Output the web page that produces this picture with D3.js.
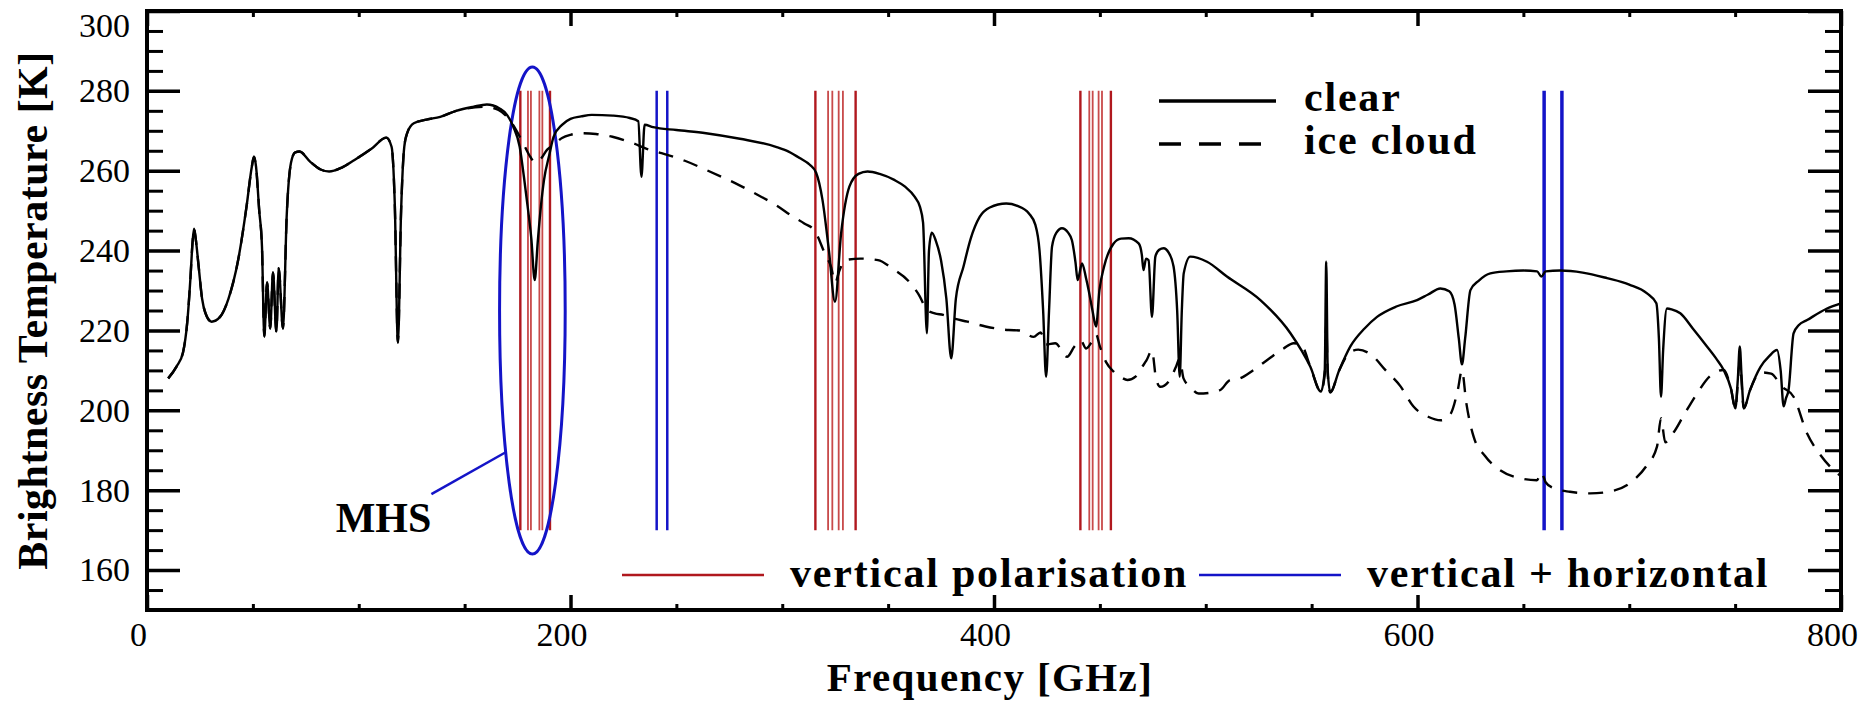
<!DOCTYPE html>
<html lang="en">
<head>
    <meta charset="UTF-8">
    <title>Brightness Temperature spectrum</title>
    <script src="https://d3js.org/d3.v7.min.js"></script>
    <style>
        body { margin: 0; background: #fff; }
        svg text { font-family: "Liberation Serif", "DejaVu Serif", serif; fill: #000; }
        .tick text { font-size: 34px; }
        .axis path { display: none; }
        .axis line { stroke: #000; stroke-width: 3.5px; }
        .axis-minor line { stroke-width: 3px; }
        .title { font-size: 42px; font-weight: bold; }
        .legend { font-size: 42px; font-weight: bold; letter-spacing: 1.8px; }
    </style>
</head>
<body>
    <div id="chart"></div>
    <script>
        // clear-sky spectrum (GHz, K)
        const clearFreq = [10, 14, 17, 19, 20.5, 21.5, 22.2, 23, 24.4, 26, 27.5, 30.5, 34.5, 38.5, 43, 47, 49.5, 50.5, 51.5, 53,
            54.3, 55.4, 56.7, 58.2, 59.5, 61.1, 62.2, 64.2, 66, 68, 70, 72, 77, 82, 86, 92, 98, 106, 113, 115.5,
            117, 118.5, 120, 121.5, 123, 126, 132, 138.5, 146, 154, 160.5, 166.5, 170, 173, 176, 178, 180, 181.5, 183.1, 184.5,
            186, 187.5, 190, 192, 196, 200, 205, 210, 220, 228, 232, 233.5, 235, 239, 250, 264, 280, 297, 303, 308.5,
            313, 316, 319, 322, 324.9, 327.8, 331.7, 336, 340.3, 346, 352.9, 358, 362.5, 365, 366.5, 368.3, 369.3, 370.6, 372.5, 375,
            377.5, 379.8, 382, 385.6, 389, 393.3, 398, 405.8, 411, 416.5, 419.5, 421.5, 423.2, 424.6, 426, 427.4, 429.5, 432.1, 435, 436.8,
            438.5, 439.5, 441.6, 443.5, 444.7, 446.5, 448.2, 449.8, 452, 456.5, 460, 463.6, 468.3, 469.8, 470.6, 471.8, 473, 474.6, 476.2, 478,
            480.1, 482.5, 484.8, 486.5, 487.7, 488.7, 489.6, 492.7, 500.6, 510, 525.8, 540, 549.4, 554.4, 556.2, 556.9, 557.6, 558.8, 563, 568.3,
            575, 580.9, 590, 599.8, 605, 610.8, 615, 617.5, 619.5, 621, 622.5, 625, 629, 634.4, 642, 650.1, 656.5, 658.5, 660.5, 667.4,
            678, 689.5, 700, 708.4, 712.8, 714, 715, 716, 717.8, 720, 724.1, 730, 736.7, 741, 744.6, 748, 750.1, 751.3, 752.2, 753.1,
            754.1, 757, 762, 766, 769.8, 771.5, 772.9, 774, 775.2, 777.6, 780, 784, 793.4, 800];
        const clearTb = [208, 211, 214.5, 222, 233, 242, 245.5, 243, 236, 228, 224.5, 222.2, 223.4, 228, 237.5, 251, 261, 263.5, 261, 250,
            241, 218.5, 232, 220.5, 234.5, 219.7, 235.6, 220.5, 249, 262, 264.6, 264.8, 262.3, 260.3, 259.8, 260.8, 262.7, 265.5, 268.3, 266,
            252, 217, 250, 266, 269.6, 271.9, 272.8, 273.5, 275, 276, 276.6, 275.6, 274, 271, 266, 258.5, 250, 243, 232.6, 242,
            251, 257.7, 264, 268.5, 271.5, 273, 273.6, 274, 273.8, 273.2, 272.4, 258.5, 271.5, 270.9, 270.2, 269.4, 268, 266, 264.8, 263.1,
            261.5, 259.5, 252.7, 240.2, 227.2, 244.3, 256, 259.2, 259.8, 259.2, 257.7, 256, 253.5, 251, 247, 219.3, 240, 244.5, 242.5, 237.5,
            228, 213, 228, 236, 243, 248.5, 250.8, 251.8, 251.2, 249.3, 246.5, 240, 225, 208.4, 225, 241, 244.5, 245.6, 244.5, 242.6,
            237, 232.6, 236.8, 233, 230.1, 225, 221, 230.1, 236, 241.8, 243, 243.1, 241.8, 239, 235.1, 238, 237.6, 223.4, 238.5, 240.2,
            240.6, 239.5, 236, 225, 208.4, 225, 234.3, 238.5, 237.2, 233.5, 227.6, 219.3, 210.9, 204.7, 210, 237.2, 210, 204.5, 210, 216,
            220.5, 223.4, 226, 227.6, 229, 230.5, 229.8, 226.5, 218, 211.5, 218, 230.1, 232.5, 234.3, 234.8, 235, 234.8, 233.5, 234.8, 235,
            234.5, 233.1, 231.5, 229.3, 226.8, 218, 203.4, 215, 225.5, 225.3, 224.3, 220.5, 216, 213, 210.1, 205.5, 200.5, 208, 216, 208,
            200.5, 205, 210.9, 213.5, 215.1, 210, 201, 203, 205, 219.3, 221.3, 222.6, 225.5, 226.8];

        // ice-cloud spectrum above 150 GHz (below that it lies on the clear curve)
        const iceFreq = [150, 160, 166, 170, 174, 178, 181, 183.3, 186, 189, 192, 196, 200, 205, 212, 219.8, 229.5, 236, 243, 254,
            264.1, 279.6, 290, 297, 305, 310.4, 315.3, 320.1, 323, 325, 327, 329.7, 337, 345.2, 352, 360.6, 365, 368.3, 372, 376,
            381, 387.5, 396, 406.9, 412, 418.7, 422, 424.6, 428.9, 434.5, 438, 441, 443.5, 446, 448.2, 450, 453, 456.5, 460, 463,
            467, 470, 472, 474.6, 476.5, 478.5, 483, 486, 487.7, 489.5, 492.7, 496.6, 502, 506.9, 511.6, 515, 522.6, 530, 536.8, 541.5,
            545, 549.4, 554.4, 556.2, 556.9, 557.6, 558.8, 563, 568, 572, 578, 585, 592, 598, 605, 611, 615.5, 619, 621, 623,
            626.5, 632, 639, 646, 656.4, 658.5, 660.5, 664.3, 672, 681.6, 692, 702, 708, 713.1, 715, 717, 721, 726, 732, 738,
            744.6, 748, 750.1, 752.2, 754.1, 757, 762, 767, 772, 777.6, 784, 790, 796.6, 800];
        const iceTb = [275.5, 276, 275.2, 273.5, 270.5, 266.5, 263.5, 262, 263, 265.3, 266.5, 268.2, 269, 269.4, 269.2, 268.5, 266.9, 265.5, 264.4, 262.5,
            260.2, 256.4, 253.5, 251.4, 248.5, 246.8, 245, 239.3, 236, 232, 235, 237.6, 238, 237.6, 235.5, 231.8, 228.5, 225.1, 224.3, 223.9,
            223, 222.2, 221, 220.1, 220, 218.4, 219.5, 216.5, 216.8, 213.4, 216, 217.5, 215.5, 217, 219, 216, 212, 209.7, 208.3, 207.6,
            208.5, 210.9, 212.5, 215, 208, 205.9, 207.6, 211, 213, 208, 205.9, 204.2, 204.4, 205.1, 207.6, 207.8, 210.1, 213, 215.5, 216.8,
            216.5, 210.9, 204.7, 209, 222, 209, 204.5, 210, 214.5, 215.2, 214, 210, 206, 201, 198.4, 197.5, 199, 205, 210, 202,
            193.4, 188.5, 185, 183.3, 182.5, 184.5, 182, 180.5, 179.6, 179.2, 179.8, 182.5, 186, 190.9, 198, 192, 194.5, 199, 204.2, 208.5,
            210.1, 205.5, 200.5, 212, 200.5, 205, 209.5, 209.2, 206, 203.4, 194.2, 189, 185, 183.5];

        // channel positions (GHz)
        const vPolFreq = [176.31, 179.91, 181.31, 185.31, 186.71, 190.31,
            315.65, 321.65, 323.65, 326.65, 328.65, 334.65,
            440.8, 445.0, 446.6, 449.4, 451.0, 455.2];
        const vhPolFreq = [240.7, 245.7, 659.8, 668.2];
        const channelTb = [170, 280];

        // MHS ellipse: centre GHz, centre K, half width GHz, half height K
        const mhsEllipse = [182, 225, 15.5, 61];
        const mhsPointer = [134.3, 179];

        const xTicks = [0, 200, 400, 600, 800];
        const yTicks = [160, 180, 200, 220, 240, 260, 280, 300];

        const margin = { top: 11, right: 21, bottom: 93, left: 147 };
        const W = 1862, H = 703;
        const width = W - margin.left - margin.right;
        const height = H - margin.top - margin.bottom;

        const svg = d3.select("#chart").append("svg")
            .attr("width", W).attr("height", H);
        const g = svg.append("g")
            .attr("transform", "translate(" + margin.left + "," + margin.top + ")");

        const x = d3.scaleLinear().domain([0, 800]).range([0, width]);
        const y = d3.scaleLinear().domain([150, 300]).range([height, 0]);

        // channel lines
        g.selectAll(".vpol").data(vPolFreq).enter().append("line")
            .attr("class", "vpol")
            .attr("x1", d => x(d)).attr("x2", d => x(d))
            .attr("y1", y(channelTb[0])).attr("y2", y(channelTb[1]))
            .attr("stroke", (d, i) => (i % 6 === 0 || i % 6 === 5) ? "#b0181e" : "#c84a4a")
            .attr("stroke-width", (d, i) => (i % 6 === 0 || i % 6 === 5) ? 2.4 : 1.8);

        g.selectAll(".vhpol").data(vhPolFreq).enter().append("line")
            .attr("class", "vhpol")
            .attr("x1", d => x(d)).attr("x2", d => x(d))
            .attr("y1", y(channelTb[0])).attr("y2", y(channelTb[1]))
            .attr("stroke", "#1414c8")
            .attr("stroke-width", d => d > 600 ? 3.5 : 2.5);

        // MHS ellipse + pointer
        const [ef, et, edf, edt] = mhsEllipse;
        g.append("ellipse")
            .attr("cx", x(ef)).attr("cy", y(et))
            .attr("rx", x(ef + edf) - x(ef)).attr("ry", y(et - edt) - y(et))
            .attr("fill", "none").attr("stroke", "#1414c8").attr("stroke-width", 3);

        const tStart = 189.5;
        const fStart = ef - edf * Math.sqrt(1 - Math.pow((tStart - et) / edt, 2));
        g.append("line")
            .attr("x1", x(fStart)).attr("y1", y(tStart))
            .attr("x2", x(mhsPointer[0])).attr("y2", y(mhsPointer[1]))
            .attr("stroke", "#1414c8").attr("stroke-width", 2.5);
        g.append("text").attr("class", "title")
            .attr("x", x(mhsPointer[0])).attr("y", y(mhsPointer[1]) + 38)
            .attr("text-anchor", "end")
            .text("MHS");

        // spectra
        const clearPts = clearFreq.map((f, i) => ({ f, t: clearTb[i] }));
        const icePts = clearPts.filter(p => p.f < iceFreq[0])
            .concat(iceFreq.map((f, i) => ({ f, t: iceTb[i] })));

        const line = d3.line().x(d => x(d.f)).y(d => y(d.t)).curve(d3.curveMonotoneX);

        g.append("path").datum(icePts)
            .attr("d", line).attr("fill", "none")
            .attr("stroke", "#000").attr("stroke-width", 2.4)
            .attr("stroke-dasharray", "15,11");
        g.append("path").datum(clearPts)
            .attr("d", line).attr("fill", "none")
            .attr("stroke", "#000").attr("stroke-width", 2.4);

        // axes: long y ticks, short x ticks, all pointing inwards
        const yMinor = d3.range(150, 301, 5).filter(v => v % 20 !== 0);
        const xMinor = d3.range(0, 801, 50).filter(v => v % 200 !== 0);

        const yl = g.append("g").attr("class", "axis")
            .call(d3.axisLeft(y).tickValues(yTicks).tickSize(-33).tickPadding(17));
        yl.selectAll("text").filter(d => d === 300).attr("y", 15);
        g.append("g").attr("class", "axis axis-minor")
            .call(d3.axisLeft(y).tickValues(yMinor).tickSize(-16).tickFormat(""));
        g.append("g").attr("class", "axis").attr("transform", "translate(" + width + ",0)")
            .call(d3.axisRight(y).tickValues(yTicks).tickSize(-33).tickFormat(""));
        g.append("g").attr("class", "axis axis-minor").attr("transform", "translate(" + width + ",0)")
            .call(d3.axisRight(y).tickValues(yMinor).tickSize(-16).tickFormat(""));

        const xb = g.append("g").attr("class", "axis").attr("transform", "translate(0," + height + ")")
            .call(d3.axisBottom(x).tickValues(xTicks).tickSize(-15).tickPadding(12));
        xb.selectAll("text").attr("dx", -9);
        g.append("g").attr("class", "axis axis-minor").attr("transform", "translate(0," + height + ")")
            .call(d3.axisBottom(x).tickValues(xMinor).tickSize(-6).tickFormat(""));
        g.append("g").attr("class", "axis")
            .call(d3.axisTop(x).tickValues(xTicks).tickSize(-15).tickFormat(""));
        g.append("g").attr("class", "axis axis-minor")
            .call(d3.axisTop(x).tickValues(xMinor).tickSize(-6).tickFormat(""));

        g.append("rect")
            .attr("width", width).attr("height", height)
            .attr("fill", "none").attr("stroke", "#000").attr("stroke-width", 4);

        // axis titles
        svg.append("text").attr("class", "title")
            .attr("x", 990).attr("y", 691)
            .attr("text-anchor", "middle")
            .style("font-size", "41px")
            .style("letter-spacing", "1.4px")
            .text("Frequency [GHz]");
        svg.append("text").attr("class", "title")
            .attr("transform", "translate(47," + (margin.top + height / 2) + ") rotate(-90)")
            .attr("text-anchor", "middle")
            .style("letter-spacing", "0.5px")
            .text("Brightness Temperature [K]");

        // legends
        const topLegend = [
            { label: "clear", dash: null, y: 101 },
            { label: "ice cloud", dash: "22,18", y: 144 }
        ];
        topLegend.forEach(d => {
            svg.append("line")
                .attr("x1", 1159).attr("x2", 1276).attr("y1", d.y).attr("y2", d.y)
                .attr("stroke", "#000").attr("stroke-width", 3.5)
                .attr("stroke-dasharray", d.dash);
            svg.append("text").attr("class", "legend")
                .attr("x", 1304).attr("y", d.y + 10)
                .text(d.label);
        });

        const bottomLegend = [
            { label: "vertical polarisation", color: "#b0181e", x: 622 },
            { label: "vertical + horizontal", color: "#1414c8", x: 1199 }
        ];
        bottomLegend.forEach(d => {
            svg.append("line")
                .attr("x1", d.x).attr("x2", d.x + 142).attr("y1", 575).attr("y2", 575)
                .attr("stroke", d.color).attr("stroke-width", 2.5);
            svg.append("text").attr("class", "legend")
                .attr("x", d.x + 168).attr("y", 587)
                .text(d.label);
        });
    </script>
</body>
</html>
